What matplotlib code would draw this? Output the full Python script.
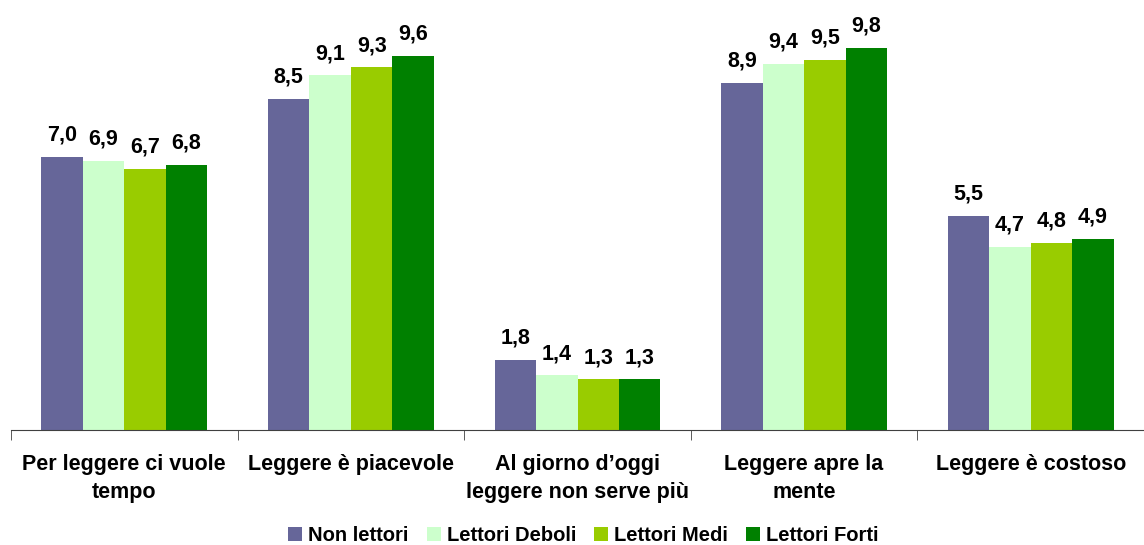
import numpy as np
import matplotlib.pyplot as plt

plt.rcParams['font.family'] = ['Liberation Sans', 'DejaVu Sans']

categories = ["Per leggere ci vuole\ntempo", "Leggere è piacevole",
              "Al giorno d\u2019oggi\nleggere non serve più", "Leggere apre la\nmente",
              "Leggere è costoso"]
series = ["Non lettori", "Lettori Deboli", "Lettori Medi", "Lettori Forti"]
non_lettori = [7.0, 8.5, 1.8, 8.9, 5.5]
lettori_deboli = [6.9, 9.1, 1.4, 9.4, 4.7]
lettori_medi = [6.7, 9.3, 1.3, 9.5, 4.8]
lettori_forti = [6.8, 9.6, 1.3, 9.8, 4.9]
values = [non_lettori, lettori_deboli, lettori_medi, lettori_forti]
colors = ['#666699', '#CCFFCC', '#99CC00', '#008000']

fig = plt.figure(figsize=(11.44, 5.45), dpi=100)
ax = fig.add_axes([11 / 1144, 115 / 545, 1 - 11 / 1144, 430 / 545])

x = np.arange(len(categories))
w = 0.183
for i, (name, vals, c) in enumerate(zip(series, values, colors)):
    pos = x + (i - 1.5) * w
    ax.bar(pos, vals, width=w, color=c, label=name)
    for p, v in zip(pos, vals):
        ax.annotate(f'{v:.1f}'.replace('.', ','), (p, v), xytext=(0, 8),
                    textcoords='offset points', ha='center', va='bottom',
                    fontsize=15.5, fontweight='bold')

ax.set_xlim(-0.5, len(categories) - 0.5)
ax.set_ylim(0, 11.03)
for s in ['top', 'right', 'left']:
    ax.spines[s].set_visible(False)
ax.spines['bottom'].set_color('#404040')
ax.set_yticks([])
ax.set_xticks(x)
ax.set_xticklabels(categories, fontsize=15.5, fontweight='bold', linespacing=1.45)
ax.tick_params(axis='x', which='major', length=0, pad=17)
ax.set_xticks(np.arange(len(categories) + 1) - 0.5, minor=True)
ax.tick_params(axis='x', which='minor', length=7, color='#404040')

ax.legend(loc='lower center', bbox_to_anchor=(0.5 + 6 / 1144, -0.292), ncol=4,
          frameon=False, prop={'size': 14.5, 'weight': 'bold'}, borderpad=0,
          handlelength=0.7, handleheight=0.7, handletextpad=0.3, columnspacing=0.9)

fig.savefig('out.png', dpi=100)
